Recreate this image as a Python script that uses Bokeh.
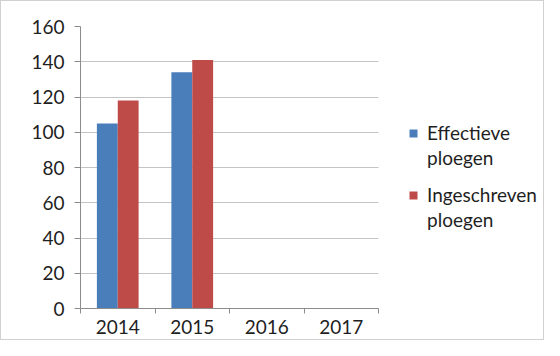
import numpy as np
from bokeh.plotting import figure
from bokeh.models import ColumnDataSource, FixedTicker, Legend, LegendItem, Range1d
from bokeh.transform import dodge
from bokeh.embed import file_html
from bokeh.resources import INLINE

years = ["2014", "2015", "2016", "2017"]
effectieve = [105, 134, np.nan, np.nan]
ingeschreven = [118, 141, np.nan, np.nan]
y_ticks = [0, 20, 40, 60, 80, 100, 120, 140, 160]

BLUE = "#4A7EBB"
RED = "#BE4B48"
FONT = "Lato"
TXT = "#1f1f1f"

n = len(years)
pos = np.arange(n) + 0.5
src = ColumnDataSource(dict(x=pos, eff=effectieve, ing=ingeschreven))

# frame spans to the right edge; the category area covers 298 of its 465 px
x_end = n * 465 / 298
p = figure(width=544, height=340, output_backend="svg", toolbar_location=None,
           x_range=Range1d(0, x_end), y_range=Range1d(0, 160),
           min_border_left=79, min_border_right=0, min_border_top=25, min_border_bottom=33)
p.styles = {"border": "1px solid #d0d0d0", "box-sizing": "border-box"}
p.outline_line_color = None
p.xgrid.grid_line_color = None
p.ygrid.grid_line_color = "#c4c4c4"
p.ygrid.cross_bounds = (0, n)

w = 0.28
r1 = p.vbar(x=dodge("x", -w / 2, range=p.x_range), top="eff", width=w, source=src,
            fill_color=BLUE, line_color=None)
r2 = p.vbar(x=dodge("x", w / 2, range=p.x_range), top="ing", width=w, source=src,
            fill_color=RED, line_color=None)

p.xaxis.bounds = (0, n)
p.xaxis.ticker = FixedTicker(ticks=list(pos), minor_ticks=list(range(n + 1)))
p.xaxis.major_label_overrides = {float(x): y for x, y in zip(pos, years)}
p.xaxis.major_tick_out = 0
p.xaxis.major_tick_in = 0
p.xaxis.minor_tick_out = 5
p.xaxis.minor_tick_in = 0
p.xaxis.major_label_standoff = 6

p.yaxis.ticker = FixedTicker(ticks=y_ticks)
p.yaxis.major_tick_out = 6
p.yaxis.major_tick_in = 0
p.yaxis.minor_tick_out = 0
p.yaxis.minor_tick_in = 0
p.yaxis.major_label_standoff = 10

for ax in (p.xaxis, p.yaxis):
    ax.axis_line_color = "#8c8c8c"
    ax.major_tick_line_color = "#8c8c8c"
    ax.minor_tick_line_color = "#8c8c8c"
    ax.major_label_text_font = FONT
    ax.major_label_text_font_size = "19px"
    ax.major_label_text_color = TXT

legend = Legend(items=[LegendItem(label="Effectieve", renderers=[r1]),
                       LegendItem(label="ploegen", renderers=[]),
                       LegendItem(label="", renderers=[]),
                       LegendItem(label="Ingeschreven", renderers=[r2]),
                       LegendItem(label="ploegen", renderers=[])],
                location=(328, 77), padding=0, margin=0, spacing=2,
                glyph_width=10, glyph_height=10, label_standoff=9, label_height=10,
                label_text_font=FONT, label_text_font_size="19px",
                label_text_color=TXT, border_line_color=None,
                background_fill_alpha=0)
p.add_layout(legend, "center")

open("out.html", "w").write(file_html(p, INLINE))
